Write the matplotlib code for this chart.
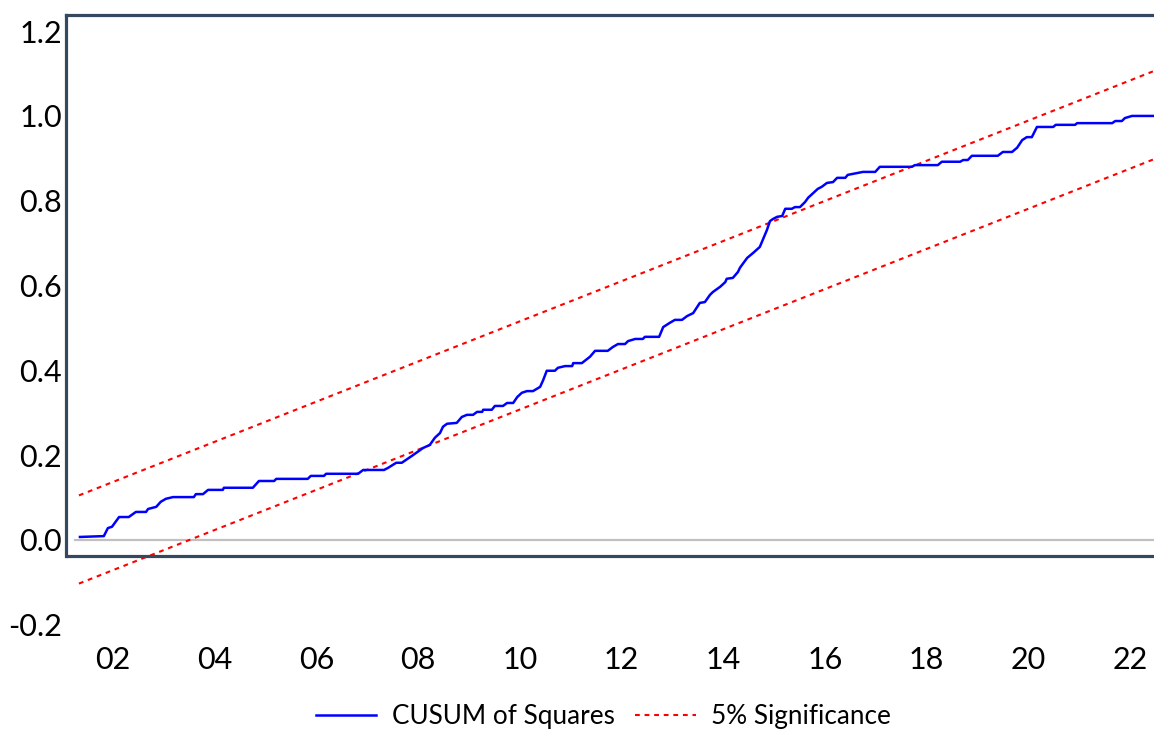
import matplotlib
matplotlib.use("Agg")
import matplotlib.pyplot as plt

plt.rcParams['font.family'] = ['Lato', 'DejaVu Sans']

# CUSUM of squares (fractional years)
years = [2001.35, 2001.82, 2001.90, 2001.98, 2002.12, 2002.31, 2002.45, 2002.65, 2002.69, 2002.85,
         2002.94, 2003.04, 2003.18, 2003.59, 2003.63, 2003.77, 2003.87, 2004.16, 2004.18, 2004.75,
         2004.87, 2005.17, 2005.21, 2005.83, 2005.89, 2006.15, 2006.19, 2006.82, 2006.92, 2007.33,
         2007.41, 2007.57, 2007.68, 2007.90, 2008.10, 2008.23, 2008.33, 2008.43, 2008.49, 2008.57,
         2008.76, 2008.86, 2008.96, 2009.08, 2009.16, 2009.26, 2009.28, 2009.45, 2009.51, 2009.67,
         2009.75, 2009.87, 2009.95, 2010.04, 2010.14, 2010.26, 2010.40, 2010.46, 2010.53, 2010.69,
         2010.75, 2010.89, 2011.03, 2011.05, 2011.22, 2011.38, 2011.48, 2011.73, 2011.83, 2011.93,
         2012.07, 2012.13, 2012.27, 2012.42, 2012.46, 2012.74, 2012.82, 2012.95, 2013.05, 2013.19,
         2013.29, 2013.41, 2013.54, 2013.64, 2013.74, 2013.80, 2013.94, 2014.04, 2014.07, 2014.19,
         2014.29, 2014.33, 2014.47, 2014.59, 2014.72, 2014.78, 2014.86, 2014.92, 2014.98, 2015.06,
         2015.16, 2015.22, 2015.35, 2015.41, 2015.51, 2015.61, 2015.67, 2015.77, 2015.86, 2015.94,
         2016.04, 2016.16, 2016.24, 2016.40, 2016.45, 2016.75, 2016.99, 2017.08, 2017.71, 2017.77,
         2018.22, 2018.30, 2018.66, 2018.72, 2018.81, 2018.89, 2019.40, 2019.50, 2019.68, 2019.78,
         2019.88, 2019.97, 2020.07, 2020.17, 2020.49, 2020.54, 2020.92, 2020.96, 2021.65, 2021.71,
         2021.84, 2021.90, 2022.04, 2022.45]
cusum = [0.007, 0.009, 0.028, 0.031, 0.054, 0.054, 0.066, 0.066, 0.073, 0.078,
         0.090, 0.097, 0.101, 0.101, 0.108, 0.108, 0.118, 0.118, 0.123, 0.123,
         0.139, 0.139, 0.144, 0.144, 0.151, 0.151, 0.156, 0.156, 0.165, 0.165,
         0.170, 0.182, 0.182, 0.200, 0.217, 0.224, 0.241, 0.252, 0.267, 0.274,
         0.276, 0.290, 0.295, 0.295, 0.302, 0.302, 0.307, 0.307, 0.316, 0.316,
         0.323, 0.323, 0.337, 0.347, 0.351, 0.351, 0.361, 0.377, 0.399, 0.399,
         0.406, 0.410, 0.410, 0.417, 0.417, 0.432, 0.446, 0.446, 0.455, 0.462,
         0.462, 0.469, 0.474, 0.474, 0.479, 0.479, 0.502, 0.512, 0.519, 0.519,
         0.528, 0.535, 0.559, 0.561, 0.578, 0.585, 0.597, 0.608, 0.616, 0.618,
         0.632, 0.642, 0.665, 0.677, 0.691, 0.708, 0.731, 0.752, 0.757, 0.762,
         0.764, 0.781, 0.781, 0.785, 0.785, 0.797, 0.807, 0.818, 0.828, 0.833,
         0.842, 0.844, 0.854, 0.854, 0.861, 0.868, 0.868, 0.880, 0.880, 0.884,
         0.884, 0.892, 0.892, 0.896, 0.896, 0.906, 0.906, 0.915, 0.915, 0.925,
         0.943, 0.950, 0.950, 0.974, 0.974, 0.979, 0.979, 0.983, 0.983, 0.988,
         0.988, 0.995, 1.000, 1.000]

# 5% significance bounds (straight lines, end points)
bound_years = [2001.33, 2022.45]
upper = [0.105, 1.105]
lower = [-0.103, 0.897]

yticks = [-0.2, 0.0, 0.2, 0.4, 0.6, 0.8, 1.0, 1.2]
xticks = [2002, 2004, 2006, 2008, 2010, 2012, 2014, 2016, 2018, 2020, 2022]
xlabels = ['02', '04', '06', '08', '10', '12', '14', '16', '18', '20', '22']

frame_col = '#34495e'

fig = plt.figure(figsize=(11.54, 7.33), dpi=100)
ax = fig.add_axes([0.0572, 0.1269, 0.9428, 0.8526])
ax.set_xlim(2001.076, 2022.472)
ax.set_ylim(-0.236, 1.238)

ax.axhline(0, xmin=0.008, xmax=1, color='#c0c0c0', lw=1.6, zorder=1)
ax.plot(years, cusum, color='#0000ff', lw=1.8, label='CUSUM of Squares', zorder=3)
ax.plot(bound_years, upper, color='#ff0000', lw=1.5, ls=(0, (2.3, 2.3)),
        label='5% Significance', zorder=2)
ax.plot(bound_years, lower, color='#ff0000', lw=1.5, ls=(0, (2.3, 2.3)), zorder=2)

# frame: the box stops just below zero, labels sit outside it
for s in ['right', 'bottom']:
    ax.spines[s].set_visible(False)
ax.spines['left'].set_bounds(-0.038, 1.238)
for s in ['left', 'top']:
    ax.spines[s].set_color(frame_col)
    ax.spines[s].set_linewidth(2.3)
ax.axhline(-0.038, color=frame_col, lw=2.3, zorder=4)

ax.set_yticks(yticks)
ax.set_yticklabels([f'{v:.1f}' for v in yticks])
ax.set_xticks(xticks)
ax.set_xticklabels(xlabels)
ax.tick_params(axis='both', length=0, labelsize=22)
ax.tick_params(axis='y', pad=3)
ax.tick_params(axis='x', pad=4)

fig.legend(loc='center', bbox_to_anchor=(0.523, 0.022), ncol=2, frameon=False,
           fontsize=18.8, handlelength=2.3, handletextpad=0.6, columnspacing=0.8)

fig.savefig('out.png', dpi=100)
